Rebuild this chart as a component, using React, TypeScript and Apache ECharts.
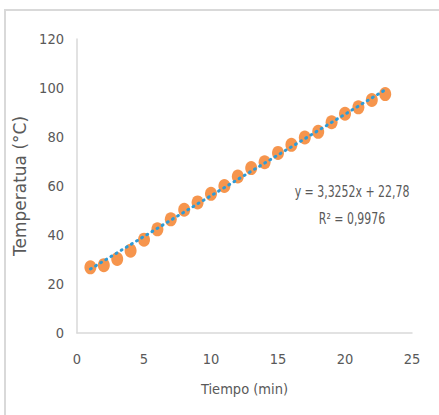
import React, { useEffect, useRef } from "react";
import * as echarts from "echarts";

const timeMin = [1, 2, 3, 4, 5, 6, 7, 8, 9, 10, 11, 12, 13, 14, 15, 16, 17, 18, 19, 20, 21, 22, 23];
const temperature = [26.8, 27.7, 30.2, 33.6, 38.1, 42.3, 46.4, 50.3, 53.3, 56.8, 60.0, 63.9, 67.3, 69.7, 73.5, 76.8, 79.8, 82.1, 86.0, 89.5, 92.1, 95.1, 97.5];
const trendX = [1, 23];
const trendY = [26.11, 99.26];
const equationText = "y = 3,3252x + 22,78";
const r2Text = "R² = 0,9976";
const xTitle = "Tiempo (min)";
const yTitle = "Temperatua (°C)";

const NARROW = "'Liberation Sans Narrow', 'DejaVu Sans Condensed', sans-serif";
const GREY = "#595959";

export default function App() {
  const ref = useRef<HTMLDivElement>(null);
  useEffect(() => {
    if (!ref.current) return;
    const chart = echarts.init(ref.current, undefined, { renderer: "svg" });
    chart.setOption({
      animation: false,
      backgroundColor: "#ffffff",
      grid: { left: 77, top: 39, right: 27, bottom: 82, containLabel: false },
      xAxis: {
        type: "value",
        min: 0,
        max: 25,
        interval: 5,
        name: xTitle,
        nameLocation: "middle",
        nameGap: 48,
        nameTextStyle: { color: GREY, fontSize: 14.5, fontFamily: NARROW },
        axisLine: { show: true, lineStyle: { color: "#d9d9d9", width: 1.5 } },
        axisTick: { show: false },
        splitLine: { show: false },
        axisLabel: { color: GREY, fontSize: 14.5, fontFamily: NARROW, margin: 18 },
      },
      yAxis: {
        type: "value",
        min: 0,
        max: 120,
        interval: 20,
        name: yTitle,
        nameLocation: "middle",
        nameGap: 30,
        nameRotate: 90,
        nameTextStyle: { color: GREY, fontSize: 17, fontFamily: "'DejaVu Sans', sans-serif" },
        axisLine: { show: true, lineStyle: { color: "#d9d9d9", width: 1.5 } },
        axisTick: { show: false },
        splitLine: { show: false },
        axisLabel: { color: GREY, fontSize: 14.5, fontFamily: NARROW, margin: 13 },
      },
      series: [
        {
          type: "scatter",
          data: timeMin.map((x, i) => [x, temperature[i]]),
          symbol: "circle",
          symbolSize: [12, 14],
          itemStyle: { color: "#F47B20" },
          z: 2,
        },
        {
          type: "line",
          data: trendX.map((x, i) => [x, trendY[i]]),
          symbol: "none",
          lineStyle: { color: "#2E9BD6", width: 3, type: [1, 5], cap: "round" },
          z: 3,
        },
      ],
      graphic: [
        {
          type: "rect",
          shape: { x: 5, y: 10, width: 600, height: 600 },
          style: { fill: "none", stroke: "#d9d9d9", lineWidth: 2 },
          silent: true,
        },
        {
          type: "text",
          x: 352,
          y: 191,
          scaleX: 0.76,
          style: { text: equationText, fill: GREY, fontSize: 16, fontFamily: NARROW, align: "center", verticalAlign: "middle" },
        },
        {
          type: "text",
          x: 352,
          y: 218,
          scaleX: 0.76,
          style: { text: r2Text, fill: GREY, fontSize: 16, fontFamily: NARROW, align: "center", verticalAlign: "middle" },
        },
      ],
    });
    return () => chart.dispose();
  }, []);
  return <div ref={ref} style={{ position: "fixed", left: 0, top: 0, width: 439, height: 415 }} />;
}
